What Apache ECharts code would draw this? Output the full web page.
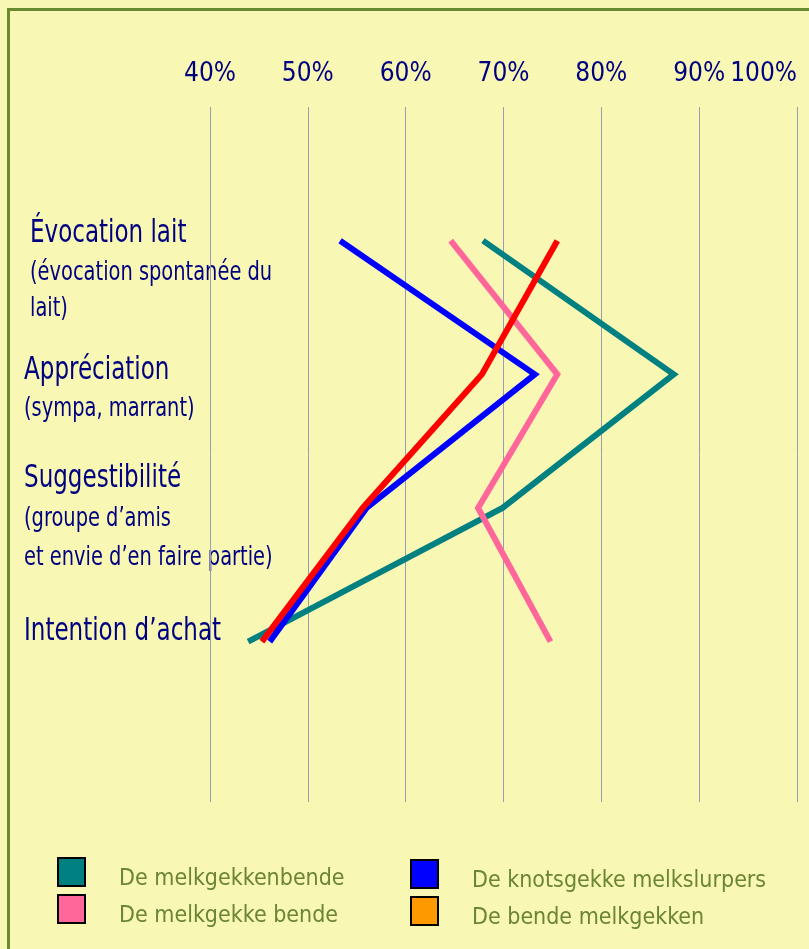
<!DOCTYPE html>
<html>
<head>
<meta charset="utf-8">
<title>Melkgekken</title>
<script src="https://cdn.jsdelivr.net/npm/echarts@6/dist/echarts.min.js"></script>
<style>
    html, body {
        margin: 0;
        padding: 0;
        background: #f8f8b4;
    }

    #chart {
        width: 809px;
        height: 949px;
    }
</style>
</head>
<body>
<div id="chart"></div>
<script>
    // criteria, top to bottom
    const criteria = ['Évocation lait', 'Appréciation', 'Suggestibilité', "Intention d’achat"];
    const criteriaNotes = [
        ['(évocation spontanée du', 'lait)'],
        ['(sympa, marrant)'],
        ['(groupe d’amis', 'et envie d’en faire partie)'],
        []
    ];

    // % per criterion
    const melkgekkenbende = [67.9, 87.4, 69.9, 43.9];
    const knotsgekkeMelkslurpers = [53.3, 73.2, 56.0, 46.1];
    const melkgekkeBende = [64.6, 75.5, 67.4, 74.8];
    const bendeMelkgekken = [75.5, 67.8, 55.6, 45.3];

    const xTicks = [40, 50, 60, 70, 80, 90, 100];

    const seriesNames = ['De melkgekkenbende', 'De knotsgekke melkslurpers', 'De melkgekke bende', 'De bende melkgekken'];
    const seriesData = [melkgekkenbende, knotsgekkeMelkslurpers, melkgekkeBende, bendeMelkgekken];
    const lineColors = ['#008080', '#0000ff', '#ff6699', '#ff0000'];
    const legendColors = ['#008080', '#0000ff', '#ff6699', '#ff9900'];

    const FONT = '"DejaVu Sans Condensed", "Liberation Sans", sans-serif';
    const NAVY = '#000080';
    const OLIVE = '#6b8436';

    let chart = echarts.init(document.getElementById('chart'));

    // left hand labels (condensed a bit more with scaleX)
    let labelTop = [234, 371, 479, 632];
    let labelLeft = [30, 24, 24, 24];
    let noteTop = [[273, 309], [409], [519, 558], []];
    let graphics = [{
        type: 'rect',
        left: 6,
        top: 7,
        shape: { width: 830, height: 970 },
        style: { fill: 'none', stroke: '#6a8a30', lineWidth: 3 },
        silent: true
    }];
    criteria.forEach((name, i) => {
        graphics.push({
            type: 'text',
            x: labelLeft[i],
            y: labelTop[i],
            scaleX: 0.8,
            style: {
                text: name,
                fill: NAVY,
                font: '32px ' + FONT,
                verticalAlign: 'middle'
            }
        });
        criteriaNotes[i].forEach((line, j) => {
            graphics.push({
                type: 'text',
                x: labelLeft[i],
                y: noteTop[i][j],
                scaleX: 0.8,
                style: {
                    text: line,
                    fill: NAVY,
                    font: '27px ' + FONT,
                    verticalAlign: 'middle'
                }
            });
        });
    });

    function legendPart(idx, left, top) {
        return {
            orient: 'vertical',
            left: left,
            top: top,
            itemWidth: 27,
            itemHeight: 28,
            itemGap: 3,
            icon: 'rect',
            selectedMode: false,
            data: idx.map(i => ({
                name: seriesNames[i],
                itemStyle: { color: legendColors[i], borderColor: '#000', borderWidth: 2 }
            })),
            // text sits a little below the box centre
            formatter: '{t|{name}}',
            textStyle: {
                rich: {
                    t: {
                        color: OLIVE,
                        fontFamily: FONT,
                        fontSize: 23,
                        padding: [15, 0, 0, 29]
                    }
                }
            }
        };
    }

    let option = {
        backgroundColor: '#f8f8b4',
        animation: false,
        grid: {
            left: 210,
            right: 12,
            top: 107,
            bottom: 147
        },
        xAxis: {
            type: 'value',
            position: 'top',
            min: xTicks[0],
            max: xTicks[xTicks.length - 1],
            interval: 10,
            axisLine: { show: false },
            axisTick: { show: false },
            axisLabel: {
                color: NAVY,
                fontFamily: FONT,
                fontSize: 26,
                margin: 20,
                showMinLabel: true,
                showMaxLabel: true,
                hideOverlap: false,
                alignMaxLabel: 'right',
                formatter: '{value}%'
            },
            splitLine: {
                lineStyle: { color: '#9a9cb2', width: 1 }
            }
        },
        // criterion index, 0 at the top
        yAxis: {
            type: 'value',
            inverse: true,
            min: -1,
            max: 4.2,
            show: false
        },
        legend: [legendPart([0, 2], 52, 852), legendPart([1, 3], 405, 854)],
        graphic: graphics,
        series: seriesNames.map((name, i) => ({
            name: name,
            type: 'line',
            data: seriesData[i].map((v, k) => [v, k]),
            showSymbol: false,
            silent: true,
            color: lineColors[i],
            lineStyle: { color: lineColors[i], width: 6, join: 'miter', cap: 'butt' }
        }))
    };
    chart.setOption(option);
</script>
</body>
</html>
